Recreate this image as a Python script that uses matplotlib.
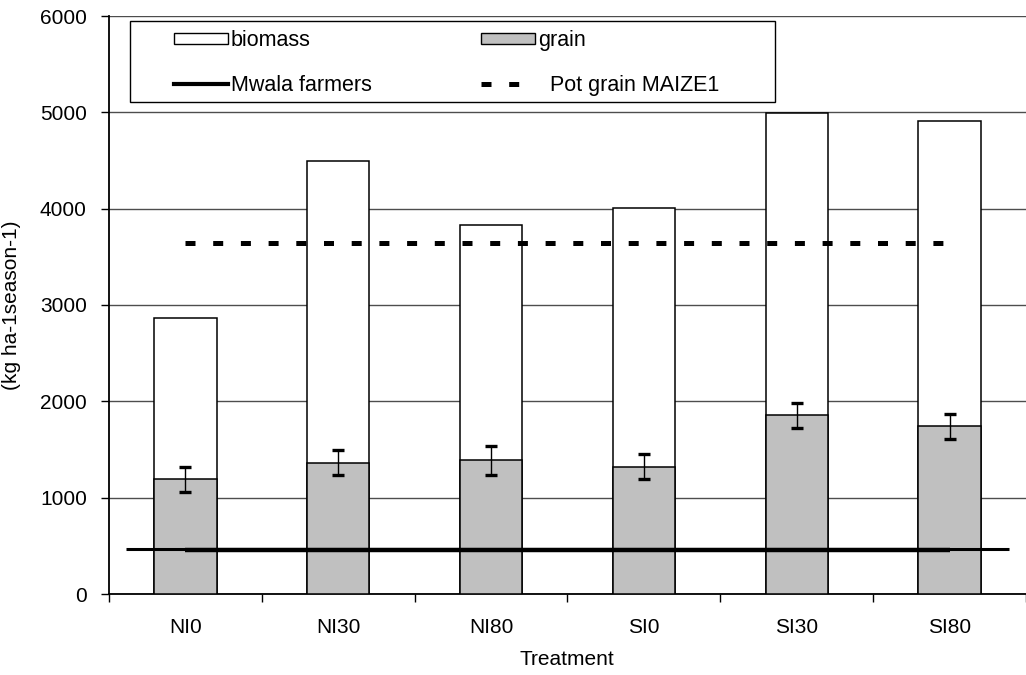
import matplotlib
matplotlib.use("Agg")
import matplotlib.pyplot as plt
from matplotlib.patches import Patch, Rectangle
from matplotlib.lines import Line2D
import numpy as np

plt.rcParams['font.family'] = ['Liberation Sans', 'DejaVu Sans']

# values
treatments = ['NI0', 'NI30', 'NI80', 'SI0', 'SI30', 'SI80']
biomass = [2870, 4500, 3830, 4005, 4990, 4915]
grain = [1190, 1365, 1386, 1320, 1855, 1740]
grain_err = [130, 130, 148, 130, 128, 129]
mwala_series = [455, 455, 455, 455, 455, 455]
pot_grain = [3640, 3640, 3640, 3640, 3640, 3640]
mwala_level = 463
mwala_span = (-0.39, 5.39)

fig = plt.figure(figsize=(10.26, 6.75), dpi=100)
ax = fig.add_axes([109 / 1026, 81 / 675, (1026 - 109) / 1026, 578 / 675])

x = np.arange(len(treatments))
cat_px = 154.6

ax.bar(x, biomass, width=0.407, color='white', edgecolor='black', linewidth=1.1, zorder=2)
ax.bar(x, grain, width=0.407, color='#c0c0c0', edgecolor='black', linewidth=1.1, zorder=3)
ax.errorbar(x, grain, yerr=grain_err, fmt='none', ecolor='black', elinewidth=1.0,
            capsize=4.6, capthick=2.4, zorder=4)

ax.plot(mwala_span, [mwala_level, mwala_level], color='black', lw=2.2, solid_capstyle='butt', zorder=5)
ax.plot(x, mwala_series, color='black', lw=3.2, solid_capstyle='butt', zorder=5)
ax.plot(x, pot_grain, color='black', lw=3.6, dashes=(2.0, 3.54), zorder=5)

ax.set_xlim(-0.5, -0.5 + (1026 - 109) / cat_px)
ax.set_ylim(0, 6000)
ax.set_yticks(np.arange(0, 6001, 1000))
ax.yaxis.grid(True, color='#4d4d4d', lw=1.0, zorder=0)
ax.set_axisbelow(True)

ax.set_xticks(x)
ax.set_xticklabels(treatments, fontsize=15)
ax.set_xticks(np.arange(-0.5, 6, 1), minor=True)
ax.tick_params(axis='x', which='major', length=0, pad=17)
ax.tick_params(axis='x', which='minor', length=6, width=1, direction='out')
ax.tick_params(axis='y', length=6, width=1, direction='out', labelsize=15, pad=10)

for s in ['top', 'right']:
    ax.spines[s].set_visible(False)
ax.spines['left'].set_linewidth(1.3)
ax.spines['bottom'].set_linewidth(1.3)

ax.set_xlabel('Treatment', fontsize=15)
ax.xaxis.set_label_coords((567 - 109) / (1026 - 109), -(650 - 594) / 578)
ax.set_ylabel('(kg ha-1season-1)', fontsize=15)
ax.yaxis.set_label_coords(-(109 - 21) / (1026 - 109), 0.5)

# legend frame and entries
fig.patches.append(Rectangle((130 / 1026, 1 - 102 / 675), 645 / 1026, 81 / 675,
                             transform=fig.transFigure, fill=False, edgecolor='black', lw=1.0))
handles = [Patch(facecolor='white', edgecolor='black', lw=1.0),
           Line2D([], [], color='black', lw=3.0),
           Patch(facecolor='#c0c0c0', edgecolor='black', lw=1.0),
           Line2D([], [], color='black', lw=3.6, dashes=(2.0, 3.54))]
labels = ['biomass', 'Mwala farmers', 'grain', '  Pot grain MAIZE1']
fig.legend(handles, labels, ncol=2, frameon=False, fontsize=15.5, mode='expand',
           loc='lower left', bbox_to_anchor=(174 / 1026, 1 - 96 / 675, 545 / 1026, 70 / 675),
           borderpad=0, borderaxespad=0, handlelength=2.5, handleheight=0.4,
           handletextpad=0.15, labelspacing=1.1)

fig.savefig('out.png', dpi=100)
